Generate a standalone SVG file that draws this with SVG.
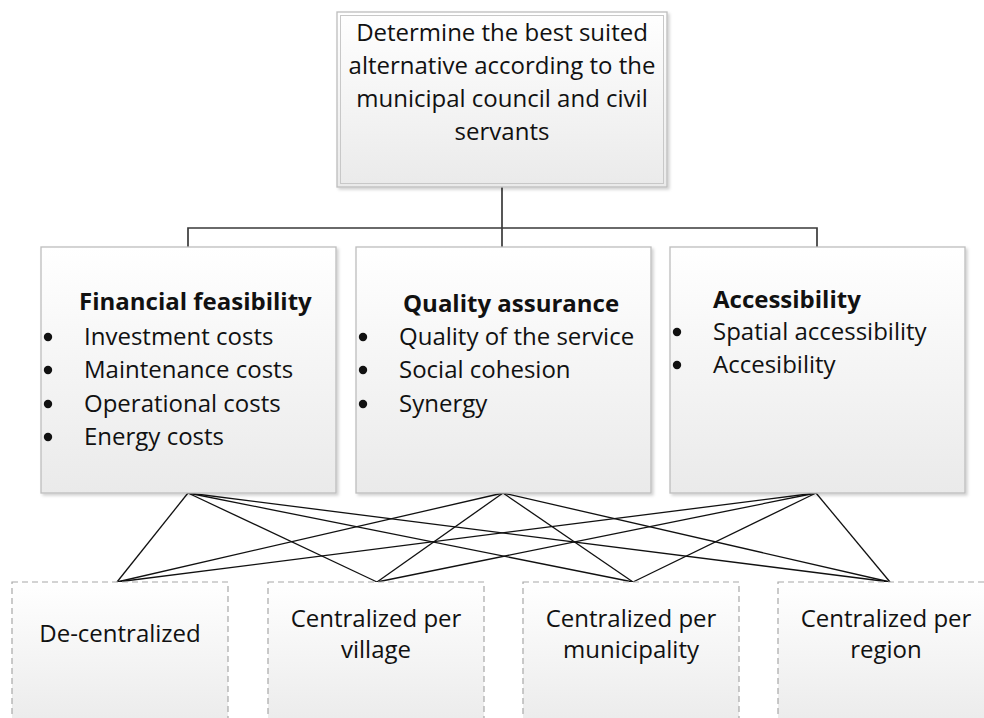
<svg xmlns="http://www.w3.org/2000/svg" width="984" height="718" viewBox="0 0 984 718">
<style>
text{font-family:"Open Sans","Liberation Sans",Arial,sans-serif;font-size:24px;fill:#111}
.b{font-weight:bold}
.c{text-anchor:middle}
.box{fill:url(#g);stroke:#bdbdbd;stroke-width:1.3}
.alt{fill:url(#g);stroke:#a8a8a8;stroke-width:1.2;stroke-dasharray:6 4}
.tree{fill:none;stroke:#3a3a3a;stroke-width:1.7}
.x{stroke:#111;stroke-width:1.3}
.dot{fill:#111}
</style>
<defs>
<linearGradient id="g" x1="0" y1="0" x2="0" y2="1">
<stop offset="0" stop-color="#ffffff"/>
<stop offset="1" stop-color="#eaeaea"/>
</linearGradient>
<filter id="sh" x="-5%" y="-5%" width="115%" height="115%">
<feDropShadow dx="2" dy="2" stdDeviation="1.5" flood-color="#000" flood-opacity="0.18"/>
</filter>
</defs>
<g id="connectors">
<path class="tree" d="M502 187V247M188 247V228H817V247"/>
<g class="x">
<line x1="188" y1="493" x2="117" y2="582"/>
<line x1="188" y1="493" x2="377" y2="582"/>
<line x1="188" y1="493" x2="633" y2="582"/>
<line x1="188" y1="493" x2="890" y2="582"/>
<line x1="503" y1="493" x2="117" y2="582"/>
<line x1="503" y1="493" x2="377" y2="582"/>
<line x1="503" y1="493" x2="633" y2="582"/>
<line x1="503" y1="493" x2="890" y2="582"/>
<line x1="816" y1="493" x2="117" y2="582"/>
<line x1="816" y1="493" x2="377" y2="582"/>
<line x1="816" y1="493" x2="633" y2="582"/>
<line x1="816" y1="493" x2="890" y2="582"/>
</g>
</g>
<g id="goal">
<rect x="337" y="12" width="330" height="175" class="box" filter="url(#sh)"/>
<rect x="340.5" y="15.5" width="323" height="168" fill="none" stroke="#c8c8c8" stroke-width="1"/>
<text class="c" x="502" y="41">Determine the best suited</text>
<text class="c" x="502" y="74">alternative according to the</text>
<text class="c" x="502" y="107">municipal council and civil</text>
<text class="c" x="502" y="140">servants</text>
</g>
<g id="financial">
<rect x="41" y="247" width="295" height="246" class="box" filter="url(#sh)"/>
<text class="b" x="79" y="310">Financial feasibility</text>
<circle class="dot" cx="48" cy="337" r="4.2"/><circle class="dot" cx="48" cy="370" r="4.2"/><circle class="dot" cx="48" cy="404" r="4.2"/><circle class="dot" cx="48" cy="437" r="4.2"/>
<text x="84" y="345">Investment costs</text>
<text x="84" y="378">Maintenance costs</text>
<text x="84" y="412">Operational costs</text>
<text x="84" y="445">Energy costs</text>
</g>
<g id="quality">
<rect x="356" y="247" width="295" height="246" class="box" filter="url(#sh)"/>
<text class="b" x="403" y="312">Quality assurance</text>
<circle class="dot" cx="363" cy="337" r="4.2"/><circle class="dot" cx="363" cy="370" r="4.2"/><circle class="dot" cx="363" cy="404" r="4.2"/>
<text x="399" y="345">Quality of the service</text>
<text x="399" y="378">Social cohesion</text>
<text x="399" y="412">Synergy</text>
</g>
<g id="accessibility">
<rect x="670" y="247" width="295" height="246" class="box" filter="url(#sh)"/>
<text class="b" x="713" y="308">Accessibility</text>
<circle class="dot" cx="677" cy="332" r="4.2"/><circle class="dot" cx="677" cy="365" r="4.2"/>
<text x="713" y="340">Spatial accessibility</text>
<text x="713" y="373">Accesibility</text>
</g>
<g id="decentralized">
<rect x="12" y="582" width="216" height="150" class="alt"/>
<text class="c" x="120" y="642">De-centralized</text>
</g>
<g id="village">
<rect x="268" y="582" width="216" height="150" class="alt"/>
<text class="c" x="376" y="627">Centralized per</text>
<text class="c" x="376" y="658">village</text>
</g>
<g id="municipality">
<rect x="523" y="582" width="216" height="150" class="alt"/>
<text class="c" x="631" y="627">Centralized per</text>
<text class="c" x="631" y="658">municipality</text>
</g>
<g id="region">
<rect x="778" y="582" width="216" height="150" class="alt"/>
<text class="c" x="886" y="627">Centralized per</text>
<text class="c" x="886" y="658">region</text>
</g>
</svg>
